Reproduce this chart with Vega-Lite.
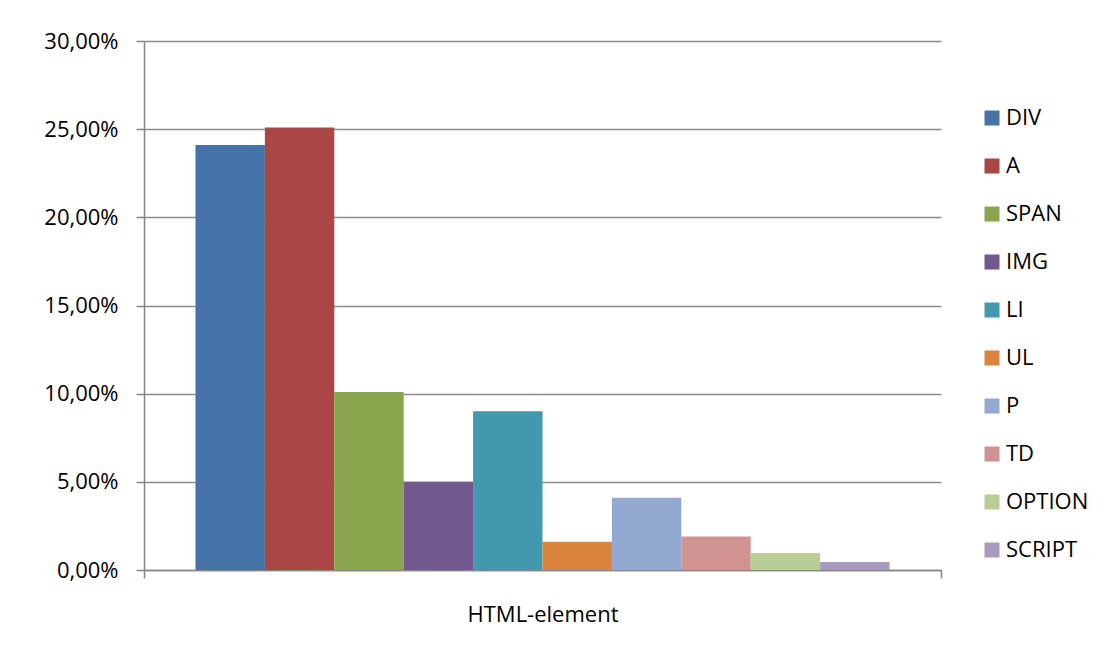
{
  "$schema": "https://vega.github.io/schema/vega-lite/v6.json",
  "autosize": {"type": "none"},
  "padding": {"left": 144, "top": 41, "right": 164, "bottom": 78},
  "width": 797,
  "height": 529,
  "background": "white",
  "data": {"values": [
    {"group": "HTML-element", "element": "DIV", "share": 0.241},
    {"group": "HTML-element", "element": "A", "share": 0.251},
    {"group": "HTML-element", "element": "SPAN", "share": 0.101},
    {"group": "HTML-element", "element": "IMG", "share": 0.050},
    {"group": "HTML-element", "element": "LI", "share": 0.090},
    {"group": "HTML-element", "element": "UL", "share": 0.016},
    {"group": "HTML-element", "element": "P", "share": 0.041},
    {"group": "HTML-element", "element": "TD", "share": 0.019},
    {"group": "HTML-element", "element": "OPTION", "share": 0.0097},
    {"group": "HTML-element", "element": "SCRIPT", "share": 0.0045}
  ]},
  "mark": {"type": "bar"},
  "encoding": {
    "x": {
      "field": "group", "type": "nominal",
      "scale": {"paddingInner": 0, "paddingOuter": 0},
      "axis": {
        "title": null, "labelAngle": 0, "labelFont": "Open Sans", "labelFontSize": 22,
        "labelColor": "black", "labelPadding": 26, "tickBand": "extent", "tickSize": 8,
        "tickColor": "#868686", "domainColor": "#868686", "domainWidth": 1.5, "tickWidth": 1.5
      }
    },
    "xOffset": {
      "field": "element", "type": "nominal",
      "sort": ["DIV", "A", "SPAN", "IMG", "LI", "UL", "P", "TD", "OPTION", "SCRIPT"],
      "scale": {"paddingInner": 0, "paddingOuter": 0.742}
    },
    "y": {
      "field": "share", "type": "quantitative",
      "scale": {"domain": [0, 0.3], "nice": false},
      "axis": {
        "title": null, "values": [0, 0.05, 0.1, 0.15, 0.2, 0.25, 0.3],
        "labelExpr": "replace(format(datum.value, '.2%'), '.', ',')",
        "labelFont": "Open Sans", "labelFontSize": 22, "labelColor": "black",
        "labelPadding": 18, "tickSize": 8, "tickColor": "#868686", "tickWidth": 1.5,
        "domainColor": "#868686", "domainWidth": 1.5,
        "grid": true, "gridColor": "#8c8c8c", "gridWidth": 1.5
      }
    },
    "color": {
      "field": "element", "type": "nominal",
      "sort": ["DIV", "A", "SPAN", "IMG", "LI", "UL", "P", "TD", "OPTION", "SCRIPT"],
      "scale": {
        "domain": ["DIV", "A", "SPAN", "IMG", "LI", "UL", "P", "TD", "OPTION", "SCRIPT"],
        "range": ["#4572A7", "#AA4643", "#89A54E", "#71588F", "#4198AF", "#DB843D", "#93A9CF", "#D19392", "#B9CD96", "#A99BBD"]
      },
      "legend": {
        "title": null, "orient": "none", "legendX": 837, "legendY": 66,
        "symbolType": "square", "symbolSize": 225, "symbolStrokeWidth": 0,
        "labelFont": "Open Sans", "labelFontSize": 22, "labelColor": "black",
        "labelOffset": 3, "rowPadding": 26, "padding": 0
      }
    }
  },
  "config": {"view": {"stroke": null}}
}
